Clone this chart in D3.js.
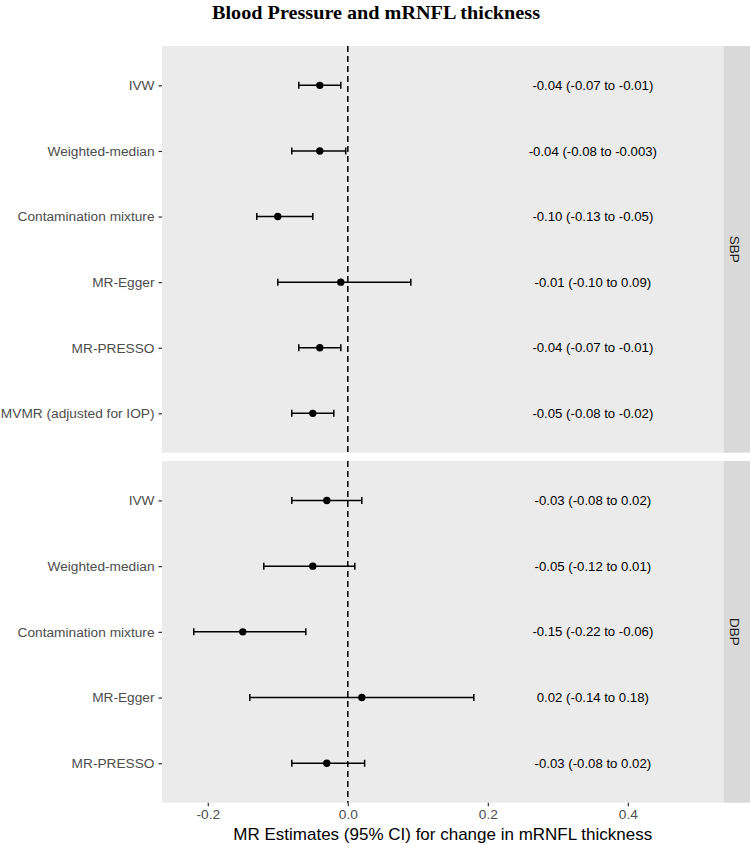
<!DOCTYPE html>
<html>
<head>
<meta charset="utf-8">
<script src="https://cdn.jsdelivr.net/npm/d3@7"></script>
<style>
  body { margin: 0; background: #fff; }
  svg { display: block; }
  .tick text { font-family: "Liberation Sans", Arial, sans-serif; }
</style>
</head>
<body>
<svg id="chart" width="750" height="844"></svg>
<script>
// SBP panel
const sbpMethods = ["IVW", "Weighted-median", "Contamination mixture", "MR-Egger", "MR-PRESSO", "MVMR (adjusted for IOP)"];
const sbpEst  = [-0.04, -0.04, -0.10, -0.01, -0.04, -0.05];
const sbpLow  = [-0.07, -0.08, -0.13, -0.10, -0.07, -0.08];
const sbpHigh = [-0.01, -0.003, -0.05, 0.09, -0.01, -0.02];
const sbpText = ["-0.04 (-0.07 to -0.01)", "-0.04 (-0.08 to -0.003)", "-0.10 (-0.13 to -0.05)",
                 "-0.01 (-0.10 to 0.09)", "-0.04 (-0.07 to -0.01)", "-0.05 (-0.08 to -0.02)"];

// DBP panel
const dbpMethods = ["IVW", "Weighted-median", "Contamination mixture", "MR-Egger", "MR-PRESSO"];
const dbpEst  = [-0.03, -0.05, -0.15, 0.02, -0.03];
const dbpLow  = [-0.08, -0.12, -0.22, -0.14, -0.08];
const dbpHigh = [0.02, 0.01, -0.06, 0.18, 0.024];
const dbpText = ["-0.03 (-0.08 to 0.02)", "-0.05 (-0.12 to 0.01)", "-0.15 (-0.22 to -0.06)",
                 "0.02 (-0.14 to 0.18)", "-0.03 (-0.08 to 0.02)"];

const xTicks = [-0.2, 0.0, 0.2, 0.4];
const textAt = 0.35;

const svg = d3.select("#chart");
const font = '"Liberation Sans", Arial, Helvetica, sans-serif';

const left = 162, right = 723.5;
const x = d3.scaleLinear().domain([-0.2654, 0.5366]).range([left, right]);

const panels = [
  { name: "SBP", methods: sbpMethods, est: sbpEst, low: sbpLow, high: sbpHigh, txt: sbpText, top: 46, bottom: 452.7 },
  { name: "DBP", methods: dbpMethods, est: dbpEst, low: dbpLow, high: dbpHigh, txt: dbpText, top: 461, bottom: 802.7 }
];

// title
svg.append("text")
  .attr("x", 376).attr("y", 19)
  .attr("text-anchor", "middle")
  .style("font-family", '"Liberation Serif", "Times New Roman", serif')
  .style("font-weight", "bold")
  .style("font-size", "19px")
  .attr("textLength", 328)
  .attr("lengthAdjust", "spacingAndGlyphs")
  .text("Blood Pressure and mRNFL thickness");

panels.forEach(p => {
  const y = d3.scalePoint().domain(p.methods).range([p.top, p.bottom]).padding(0.6);

  svg.append("rect")
    .attr("x", left).attr("y", p.top)
    .attr("width", right - left).attr("height", p.bottom - p.top)
    .attr("fill", "#ebebeb");

  // strip
  svg.append("rect")
    .attr("x", right).attr("y", p.top)
    .attr("width", 750 - right).attr("height", p.bottom - p.top)
    .attr("fill", "#d9d9d9");
  const cy = (p.top + p.bottom) / 2;
  svg.append("text")
    .attr("transform", `translate(${right + 11},${cy}) rotate(90)`)
    .attr("text-anchor", "middle")
    .attr("dy", "0.35em")
    .style("font-family", font)
    .style("font-size", "13.5px")
    .attr("fill", "#1a1a1a")
    .text(p.name);

  // zero line
  svg.append("line")
    .attr("x1", x(0)).attr("x2", x(0))
    .attr("y1", p.top).attr("y2", p.bottom)
    .attr("stroke", "#000").attr("stroke-width", 1.5)
    .attr("stroke-dasharray", "6,4");

  // y axis
  const yAxis = svg.append("g")
    .attr("transform", `translate(${left},0)`)
    .call(d3.axisLeft(y).tickSize(3.5).tickPadding(4));
  yAxis.select(".domain").remove();
  yAxis.selectAll(".tick line").attr("stroke", "#333").attr("stroke-width", 1.2);
  yAxis.selectAll(".tick text").attr("fill", "#4d4d4d").style("font-size", "13.7px");

  const rows = p.methods.map((m, i) => ({ m, est: p.est[i], low: p.low[i], high: p.high[i], txt: p.txt[i] }));
  const g = svg.append("g");

  g.selectAll(".ci").data(rows).join("line")
    .attr("x1", d => x(d.low)).attr("x2", d => x(d.high))
    .attr("y1", d => y(d.m)).attr("y2", d => y(d.m))
    .attr("stroke", "#000").attr("stroke-width", 1.5);
  g.selectAll(".capl").data(rows).join("line")
    .attr("x1", d => x(d.low)).attr("x2", d => x(d.low))
    .attr("y1", d => y(d.m) - 3.5).attr("y2", d => y(d.m) + 3.5)
    .attr("stroke", "#000").attr("stroke-width", 1.5);
  g.selectAll(".caph").data(rows).join("line")
    .attr("x1", d => x(d.high)).attr("x2", d => x(d.high))
    .attr("y1", d => y(d.m) - 3.5).attr("y2", d => y(d.m) + 3.5)
    .attr("stroke", "#000").attr("stroke-width", 1.5);
  g.selectAll("circle").data(rows).join("circle")
    .attr("cx", d => x(d.est)).attr("cy", d => y(d.m))
    .attr("r", 3.7).attr("fill", "#000");
  g.selectAll(".lab").data(rows).join("text")
    .attr("x", x(textAt)).attr("y", d => y(d.m))
    .attr("dy", "0.35em")
    .attr("text-anchor", "middle")
    .style("font-family", font)
    .style("font-size", "13.2px")
    .attr("fill", "#000")
    .text(d => d.txt);
});

// x axis
const xAxis = svg.append("g")
  .attr("transform", `translate(0,${panels[1].bottom})`)
  .call(d3.axisBottom(x).tickValues(xTicks).tickFormat(d => d.toFixed(1)).tickSize(3.5).tickPadding(3));
xAxis.select(".domain").remove();
xAxis.selectAll(".tick line").attr("stroke", "#333").attr("stroke-width", 1.2);
xAxis.selectAll(".tick text").attr("fill", "#4d4d4d").style("font-size", "13.7px");

svg.append("text")
  .attr("x", (left + right) / 2).attr("y", 840)
  .attr("text-anchor", "middle")
  .style("font-family", font)
  .style("font-size", "17px")
  .attr("fill", "#000")
  .text("MR Estimates (95% CI) for change in mRNFL thickness");
</script>
</body>
</html>
